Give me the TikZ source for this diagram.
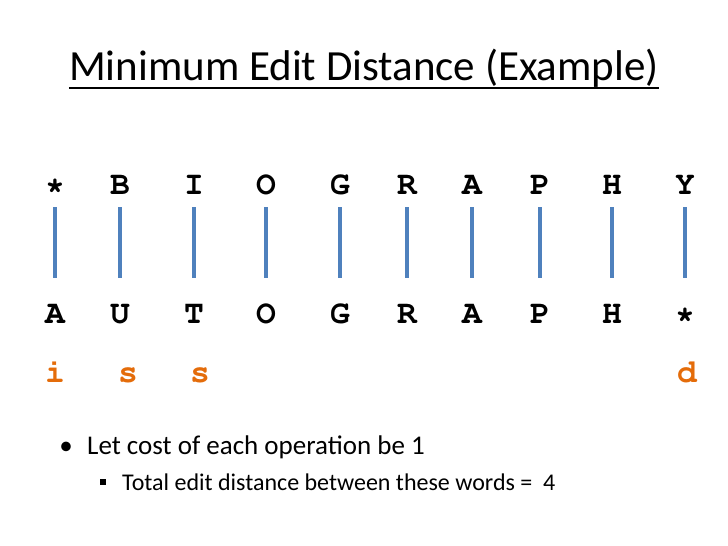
\documentclass[tikz,border=0pt]{standalone}
\usepackage[T1,TU]{fontenc}
\usepackage{fontspec}
\setmainfont{Carlito}
\newcommand{\couriertype}{\fontencoding{T1}\fontfamily{pcr}\fontseries{b}\selectfont}
\definecolor{barblue}{RGB}{79,129,189}
\definecolor{oporange}{RGB}{228,108,10}
\tikzset{
  letter/.style={anchor=base, inner sep=0pt, font=\fontsize{33}{33}\couriertype},
  opletter/.style={letter, text=oporange},
  bar/.style={barblue, line width=3.2pt}
}
\begin{document}
\begin{tikzpicture}[x=1pt, y=-1pt]
  \useasboundingbox (0,0) rectangle (728,546);

  % Title
  \node[anchor=base, inner sep=0pt, font=\fontsize{43}{43}\selectfont] (title) at (364,80)
    {Minimum Edit Distance (Example)};
  \draw[line width=2.6pt] ([yshift=-8pt]title.base west) -- ([yshift=-8pt]title.base east);

  % The two words, one column per aligned pair
  \foreach \x/\t/\b [count=\i] in {55/*/A, 120/B/U, 194/I/T, 266/O/O, 340/G/G,
                                   407/R/R, 472/A/A, 540/P/P, 612/H/H, 685/Y/*} {
    \node[letter] (top\i) at (\x,194) {\t};
    \node[letter] (bot\i) at (\x,323) {\b};
    \draw[bar] ([yshift=-13pt]top\i.base) -- ([yshift=45pt]bot\i.base);
  }

  % Operations: insert, substitute, delete
  \foreach \x/\o/\n in {55/i/1, 128/s/2, 200/s/3, 687/d/10} {
    \node[opletter] (op\n) at (\x,382) {\o};
  }

  % Bullets
  \node[anchor=base west, inner sep=0pt, font=\fontsize{27}{27}\selectfont] (cost) at (87,454)
    {Let cost of each operation be 1};
  \node[anchor=base, inner sep=0pt, font=\fontsize{27}{27}\selectfont] (dot) at (66,454) {\textbullet};
  \node[anchor=base west, inner sep=0pt, font=\fontsize{24}{24}\selectfont] (total) at (122,490)
    {Total edit distance between these words = \ 4};
  \fill (100,479) rectangle (106,485);
\end{tikzpicture}
\end{document}
